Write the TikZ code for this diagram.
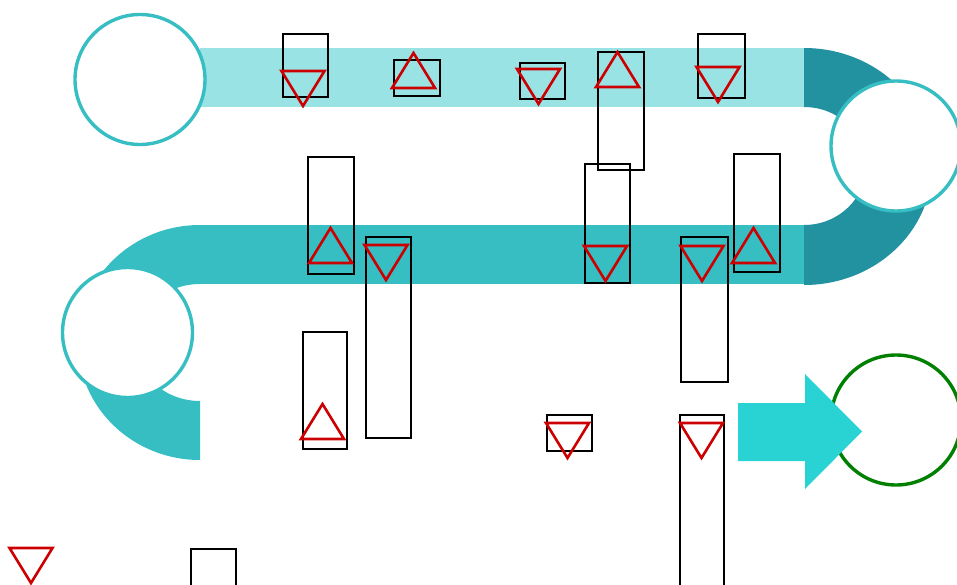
\documentclass[tikz,border=0pt]{standalone}
\usetikzlibrary{shapes.geometric}
\definecolor{bandlight}{HTML}{99E3E4}
\definecolor{bandmid}{HTML}{36BEC2}
\definecolor{banddark}{HTML}{2292A0}
\definecolor{arrowcyan}{HTML}{29D3D3}
\definecolor{markred}{HTML}{CC0000}
\definecolor{goalgreen}{HTML}{008000}
\tikzset{
  box/.style={draw=black, line width=1.6pt, inner sep=0pt, fill=none},
  stopring/.style={circle, draw=bandmid, line width=3.4pt, fill=white, minimum size=130pt, inner sep=0pt},
  goalring/.style={circle, draw=goalgreen, line width=3.4pt, fill=white, minimum size=130pt, inner sep=0pt},
  tristroke/.style={draw=markred, line width=2.6pt, line join=miter},
  tridown/.pic={\draw[tristroke] (-21.5,0) -- (21.5,0) -- (0,35) -- cycle;},
  triup/.pic={\draw[tristroke] (0,0) -- (21.5,35) -- (-21.5,35) -- cycle;}
}
\begin{document}
\begin{tikzpicture}[x=1pt,y=-1pt]
\useasboundingbox (0,0) rectangle (957,585);
\clip (0,0) rectangle (957,585);
% road bands
\fill[bandlight] (200,48) rectangle (804,107);
\fill[bandmid] (200,225) rectangle (806,284);
\fill[banddark] (804,48) arc[start angle=90, end angle=-90, x radius=128pt, y radius=118.5pt]
  -- (804,225) arc[start angle=-90, end angle=90, x radius=62pt, y radius=59pt] -- cycle;
\fill[bandmid] (200,225) arc[start angle=90, end angle=270, x radius=122pt, y radius=117.5pt]
  -- (200,401) arc[start angle=270, end angle=90, x radius=64pt, y radius=58.5pt] -- cycle;
% stops
\node[stopring] (s1) at (140,79.5) {};
\node[stopring] (s2) at (896,146) {};
\node[stopring] (s3) at (127.5,332.5) {};
\node[goalring] (goal) at (896,420) {};
% arrow
\fill[arrowcyan] (738,403) -- (805,403) -- (805,374) -- (862,431.5) -- (805,489) -- (805,461) -- (738,461) -- cycle;
% boxes
\node[box, minimum width=45pt, minimum height=63pt] (r1) at (305.5,65.5) {};
\node[box, minimum width=46pt, minimum height=36pt] (r2) at (417,78) {};
\node[box, minimum width=46pt, minimum height=117pt] (r3) at (331,215.5) {};
\node[box, minimum width=45pt, minimum height=201pt] (r4) at (388.5,337.5) {};
\node[box, minimum width=45pt, minimum height=36pt] (r5) at (542.5,81) {};
\node[box, minimum width=46pt, minimum height=118pt] (r6) at (621,111) {};
\node[box, minimum width=47pt, minimum height=64pt] (r7) at (721.5,66) {};
\node[box, minimum width=45pt, minimum height=119pt] (r8) at (607.5,223.5) {};
\node[box, minimum width=46pt, minimum height=118pt] (r9) at (757,213) {};
\node[box, minimum width=47pt, minimum height=145pt] (r10) at (704.5,309.5) {};
\node[box, minimum width=44pt, minimum height=117pt] (r11) at (325,390.5) {};
\node[box, minimum width=45pt, minimum height=36pt] (r12) at (569.5,433) {};
\node[box, minimum width=44pt, minimum height=200pt] (r13) at (702,515) {};
\node[box, minimum width=45pt, minimum height=100pt] (r14) at (213.5,599) {};
% markers
\pic at (303,71) {tridown};
\pic at (538.5,69) {tridown};
\pic at (718,67) {tridown};
\pic at (386,245) {tridown};
\pic at (605.5,246) {tridown};
\pic at (702,246) {tridown};
\pic at (567.5,423) {tridown};
\pic at (701.5,423) {tridown};
\pic at (31,548) {tridown};
\pic at (413.5,53) {triup};
\pic at (617.5,52) {triup};
\pic at (330.5,228) {triup};
\pic at (753.5,228) {triup};
\pic at (322.5,404) {triup};
\end{tikzpicture}
\end{document}
